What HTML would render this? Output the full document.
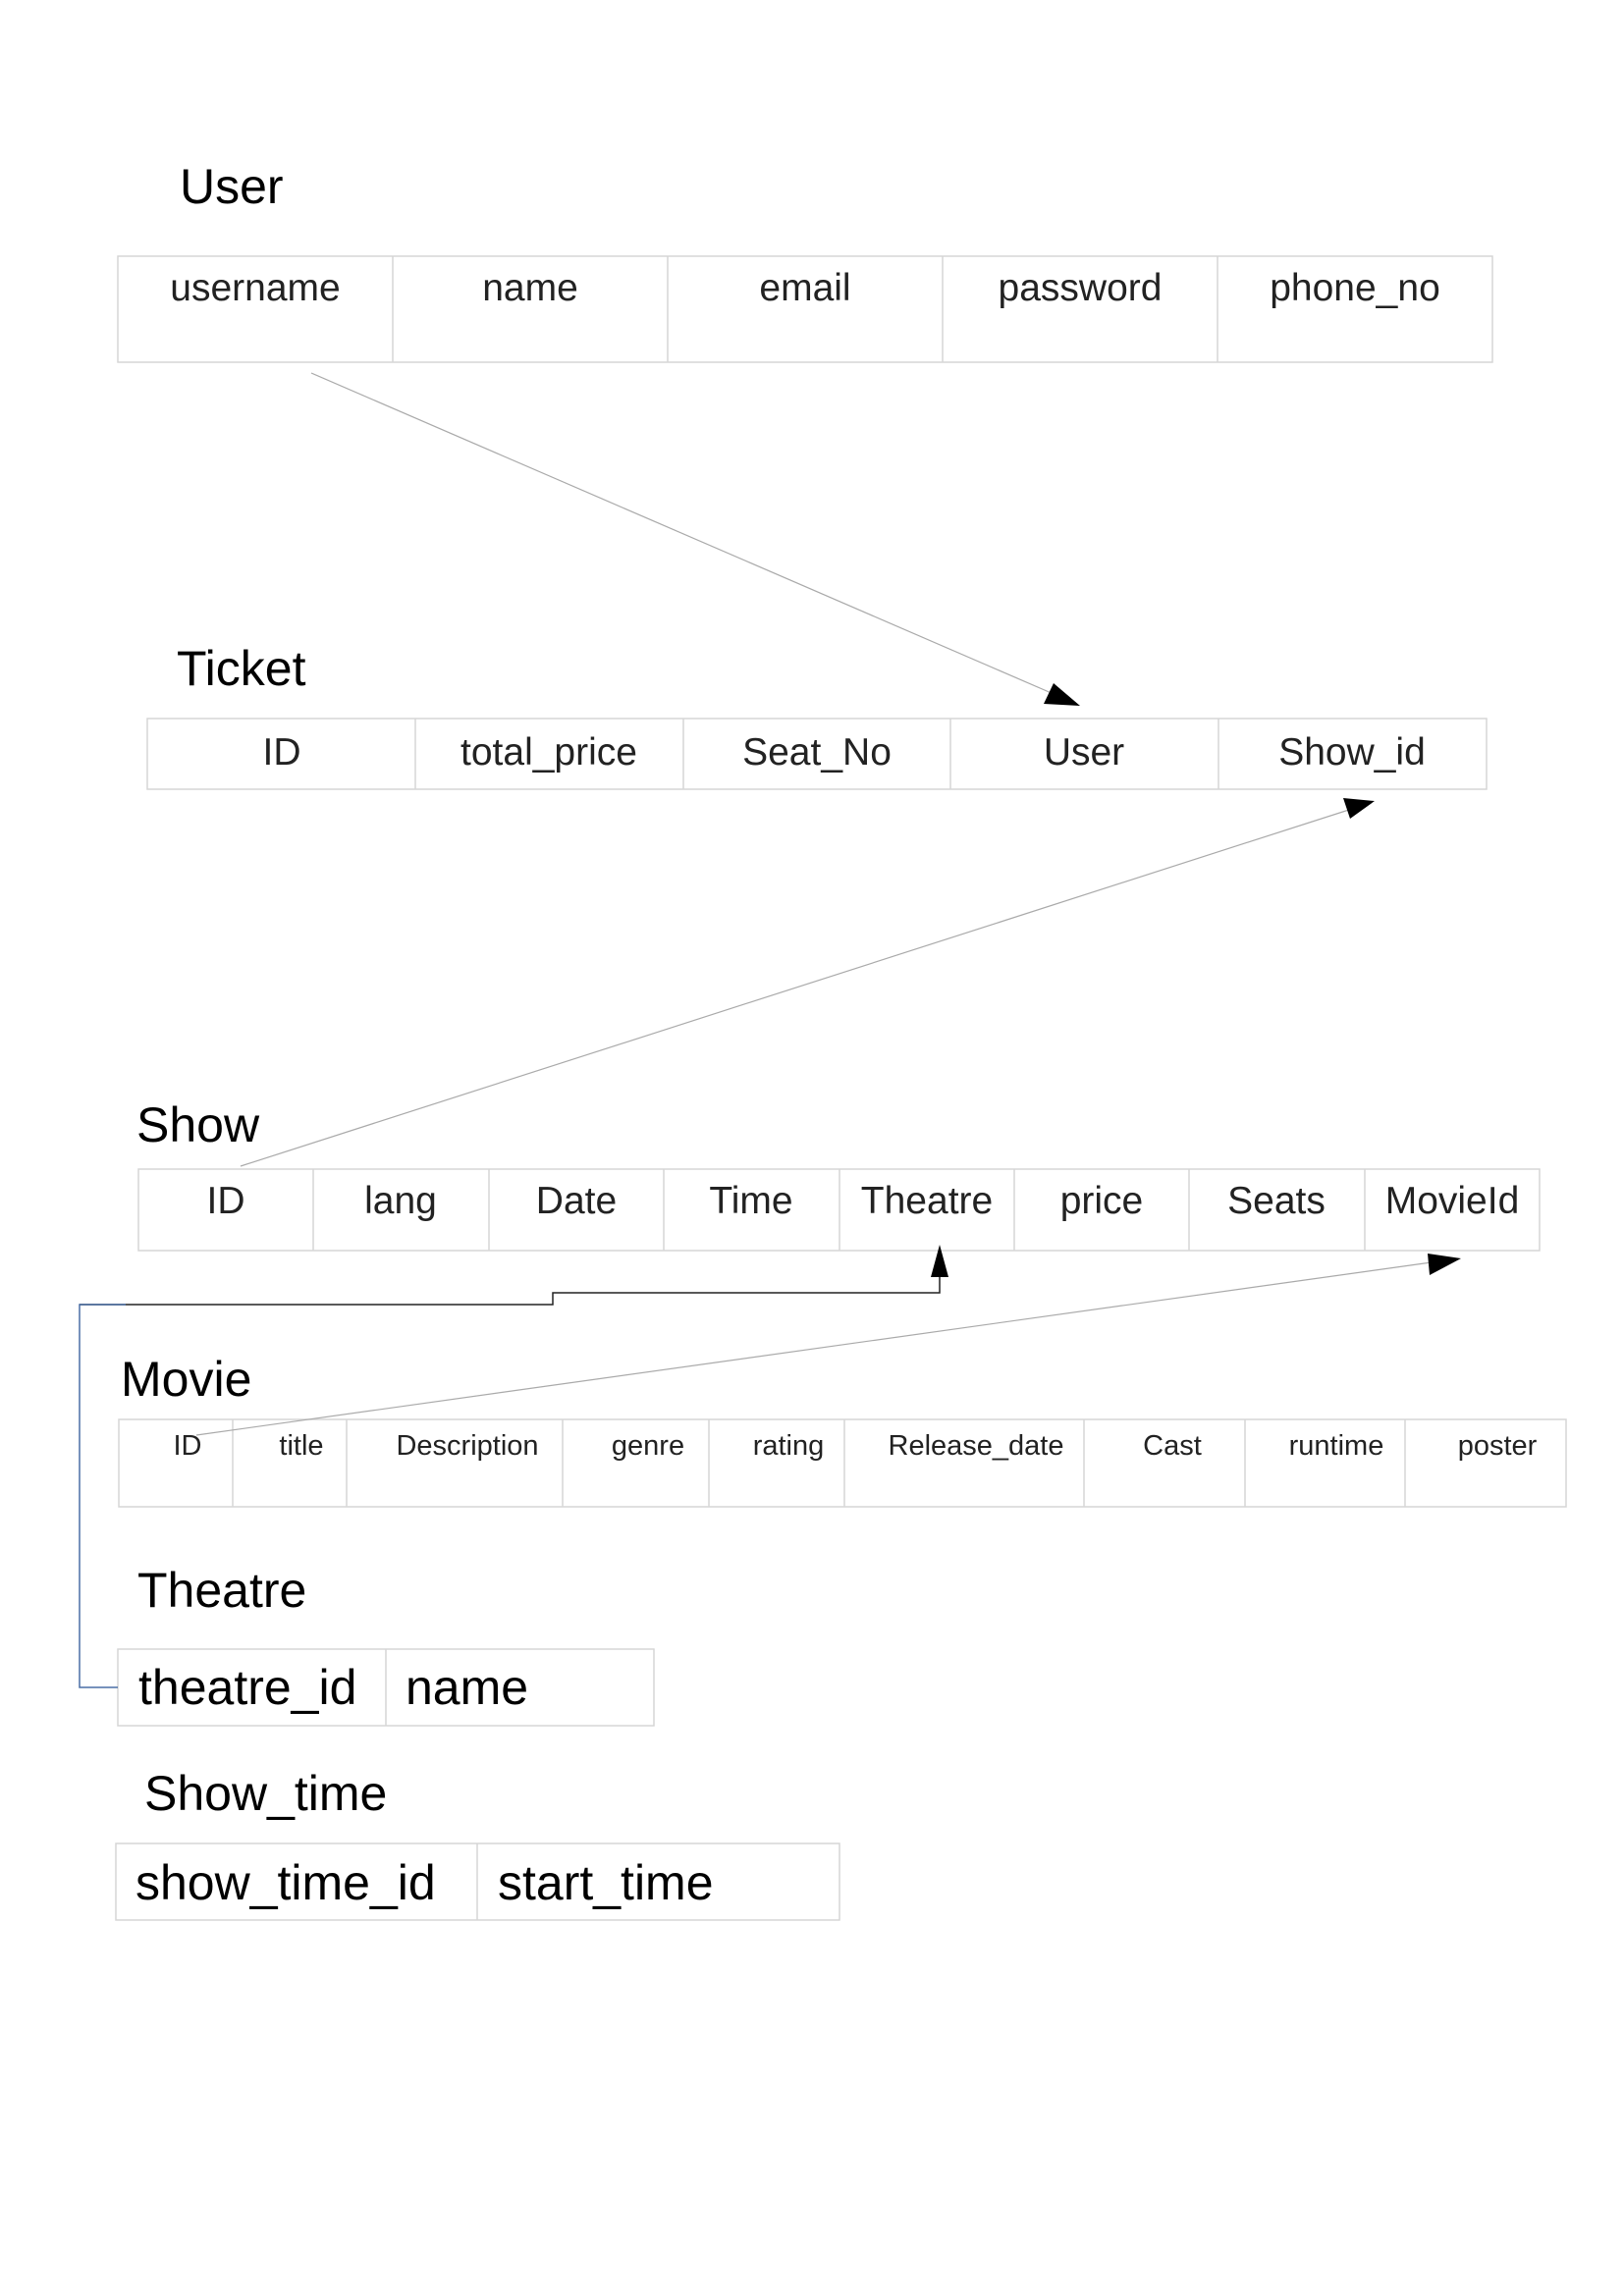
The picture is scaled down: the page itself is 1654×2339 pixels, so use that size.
<!DOCTYPE html>
<html><head><meta charset="utf-8"><style>
html,body{margin:0;padding:0;background:#fff;}
svg{display:block;font-family:"Liberation Sans",sans-serif;}
</style></head><body>
<svg width="1654" height="2339" viewBox="0 0 1654 2339" xmlns="http://www.w3.org/2000/svg">
<g fill="none" stroke="#d6d6d6" stroke-width="1.5">
<rect x="120" y="261" width="1400" height="108"/>
<line x1="400" y1="261" x2="400" y2="369"/><line x1="680" y1="261" x2="680" y2="369"/><line x1="960" y1="261" x2="960" y2="369"/><line x1="1240" y1="261" x2="1240" y2="369"/>
<rect x="150" y="732" width="1364" height="72"/>
<line x1="423" y1="732" x2="423" y2="804"/><line x1="696" y1="732" x2="696" y2="804"/><line x1="968" y1="732" x2="968" y2="804"/><line x1="1241" y1="732" x2="1241" y2="804"/>
<rect x="141" y="1191" width="1427" height="83"/>
<line x1="319" y1="1191" x2="319" y2="1274"/><line x1="498" y1="1191" x2="498" y2="1274"/><line x1="676" y1="1191" x2="676" y2="1274"/><line x1="855" y1="1191" x2="855" y2="1274"/><line x1="1033" y1="1191" x2="1033" y2="1274"/><line x1="1211" y1="1191" x2="1211" y2="1274"/><line x1="1390" y1="1191" x2="1390" y2="1274"/>
<rect x="121" y="1446" width="1474" height="89"/>
<line x1="237" y1="1446" x2="237" y2="1535"/><line x1="353" y1="1446" x2="353" y2="1535"/><line x1="573" y1="1446" x2="573" y2="1535"/><line x1="722" y1="1446" x2="722" y2="1535"/><line x1="860" y1="1446" x2="860" y2="1535"/><line x1="1104" y1="1446" x2="1104" y2="1535"/><line x1="1268" y1="1446" x2="1268" y2="1535"/><line x1="1431" y1="1446" x2="1431" y2="1535"/>
<rect x="120" y="1680" width="546" height="78"/><line x1="393" y1="1680" x2="393" y2="1758"/>
<rect x="118" y="1878" width="737" height="78"/><line x1="486" y1="1878" x2="486" y2="1956"/>
</g>
<g stroke="#aaa" stroke-width="1.2" fill="none">
<line x1="317" y1="380" x2="1080" y2="710"/>
<line x1="245" y1="1188" x2="1380" y2="823"/>
<line x1="200" y1="1462" x2="1465" y2="1285"/>
</g>
<polygon points="1100,719 1063,717 1073,696" fill="#000"/>
<polygon points="1400,816 1375,834 1368,813" fill="#000"/>
<polygon points="1488,1282 1456,1299 1454,1277" fill="#000"/>
<polyline points="81,1329 563,1329 563,1317 957,1317 957,1290" fill="none" stroke="#222" stroke-width="1.5"/>
<polygon points="957,1268 948,1301 966,1301" fill="#000"/>
<polyline points="128,1329 81,1329 81,1719 120,1719" fill="none" stroke="#4a6fa5" stroke-width="1.5"/>
<g fill="#000" font-size="50">
<text x="183" y="207">User</text>
<text x="180" y="698">Ticket</text>
<text x="139" y="1163">Show</text>
<text x="123" y="1422">Movie</text>
<text x="140" y="1637">Theatre</text>
<text x="147" y="1844">Show_time</text>
</g>
<g fill="#222" font-size="39" text-anchor="middle">
<text x="260" y="306">username</text><text x="540" y="306">name</text><text x="820" y="306">email</text><text x="1100" y="306">password</text><text x="1380" y="306">phone_no</text>
<text x="287" y="779">ID</text><text x="559" y="779">total_price</text><text x="832" y="779">Seat_No</text><text x="1104" y="779">User</text><text x="1377" y="779">Show_id</text>
<text x="230" y="1236">ID</text><text x="408" y="1236">lang</text><text x="587" y="1236">Date</text><text x="765" y="1236">Time</text><text x="944" y="1236">Theatre</text><text x="1122" y="1236">price</text><text x="1300" y="1236">Seats</text><text x="1479" y="1236">MovieId</text>
</g>
<g fill="#222" font-size="29" text-anchor="middle">
<text x="191" y="1482">ID</text><text x="307" y="1482">title</text><text x="476" y="1482">Description</text><text x="660" y="1482">genre</text><text x="803" y="1482">rating</text><text x="994" y="1482">Release_date</text><text x="1194" y="1482">Cast</text><text x="1361" y="1482">runtime</text><text x="1525" y="1482">poster</text>
</g>
<g fill="#000" font-size="50">
<text x="141" y="1736">theatre_id</text><text x="413" y="1736">name</text>
<text x="138" y="1935">show_time_id</text><text x="507" y="1935">start_time</text>
</g>
</svg>
</body></html>
